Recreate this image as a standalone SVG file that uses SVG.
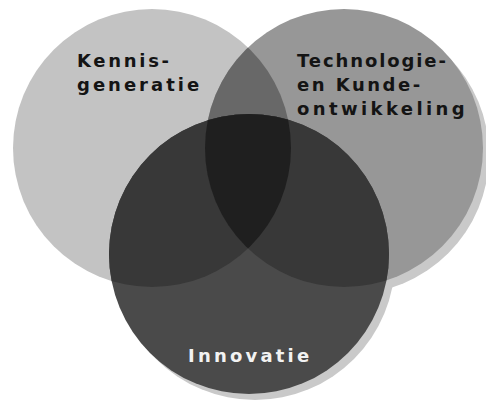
<svg xmlns="http://www.w3.org/2000/svg" width="486" height="402" viewBox="0 0 486 402">
  <style>
    .lbl { font-family: "DejaVu Sans", "Liberation Sans", sans-serif; font-weight: bold; font-size: 18px; fill: #141414; }
    .lbl-w { font-family: "DejaVu Sans", "Liberation Sans", sans-serif; font-weight: bold; font-size: 18px; fill: #f2f2f2; }
    .shadow { fill: #c9c9c9; }
  </style>
  <defs>
    <clipPath id="clip-left"><circle cx="152" cy="148" r="139"/></clipPath>
    <clipPath id="clip-right"><circle cx="344" cy="148" r="139"/></clipPath>
    <clipPath id="clip-bottom"><circle cx="249" cy="254" r="140"/></clipPath>
  </defs>
  <rect width="486" height="402" fill="#ffffff"/>

  <g id="shadows">
    <circle class="shadow" cx="350" cy="155" r="139"/>
    <circle class="shadow" cx="255" cy="260" r="140"/>
  </g>

  <g id="node-kennisgeneratie">
    <circle cx="152" cy="148" r="139" fill="#c3c3c3"/>
    <text class="lbl" x="77" y="67" letter-spacing="2.7">Kennis-</text>
    <text class="lbl" x="77" y="91" letter-spacing="3">generatie</text>
  </g>

  <g id="node-technologie">
    <circle cx="344" cy="148" r="139" fill="#979797"/>
    <text class="lbl" x="297" y="67" letter-spacing="1.9">Technologie-</text>
    <text class="lbl" x="297" y="91" letter-spacing="2.5">en Kunde-</text>
    <text class="lbl" x="297" y="115" letter-spacing="3.4">ontwikkeling</text>
  </g>

  <g id="overlap-left-right">
    <circle cx="344" cy="148" r="139" fill="#686868" clip-path="url(#clip-left)"/>
  </g>

  <g id="node-innovatie">
    <circle cx="249" cy="254" r="140" fill="#4a4a4a"/>
    <text class="lbl-w" x="188" y="362" letter-spacing="3.2">Innovatie</text>
  </g>

  <g id="overlaps">
    <circle cx="249" cy="254" r="140" fill="#383838" clip-path="url(#clip-left)"/>
    <circle cx="249" cy="254" r="140" fill="#383838" clip-path="url(#clip-right)"/>
    <g clip-path="url(#clip-bottom)">
      <circle cx="344" cy="148" r="139" fill="#1f1f1f" clip-path="url(#clip-left)"/>
    </g>
  </g>
</svg>
